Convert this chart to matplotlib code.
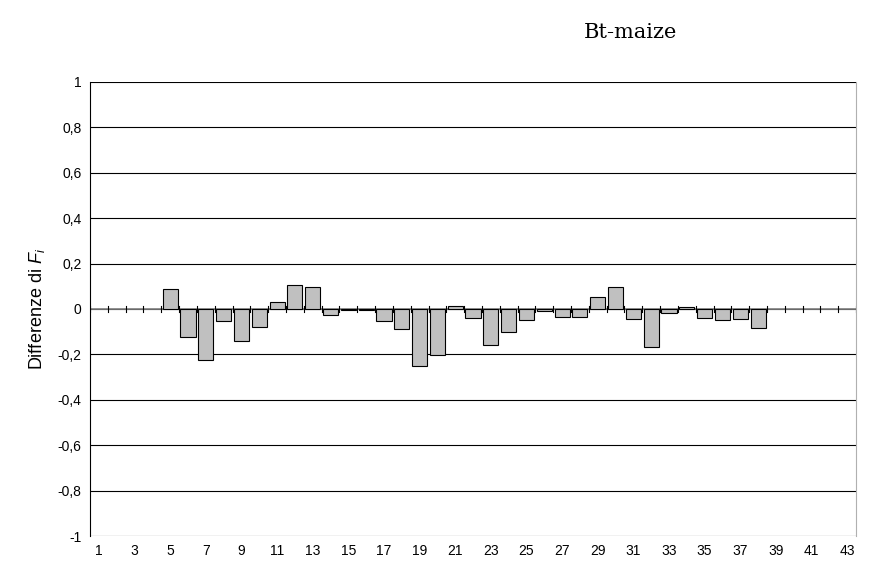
import matplotlib
matplotlib.use('Agg')
import matplotlib.pyplot as plt
import numpy as np

plt.rcParams['font.family'] = ['Liberation Sans', 'DejaVu Sans']
plt.rcParams['mathtext.fontset'] = 'custom'
plt.rcParams['mathtext.it'] = 'Liberation Sans:italic'
plt.rcParams['mathtext.rm'] = 'Liberation Sans'

categories = list(range(1, 44))
values = [0, 0, 0, 0, 0.086, -0.125, -0.223, -0.054, -0.141, -0.078,
          0.029, 0.107, 0.095, -0.026, -0.004, -0.004, -0.053, -0.089, -0.250, -0.204,
          0.012, -0.038, -0.157, -0.101, -0.050, -0.009, -0.035, -0.035, 0.051, 0.095,
          -0.042, -0.168, -0.019, 0.009, -0.040, -0.050, -0.042, -0.085, 0, 0,
          0, 0, 0]
y_ticks = [-1, -0.8, -0.6, -0.4, -0.2, 0, 0.2, 0.4, 0.6, 0.8, 1]
y_labels = ['-1', '-0,8', '-0,6', '-0,4', '-0,2', '0', '0,2', '0,4', '0,6', '0,8', '1']

fig = plt.figure(figsize=(8.69, 5.77), dpi=100)
ax = fig.add_axes([0.1036, 0.071, 0.8815, 0.787])

x = np.arange(len(categories))
nz = [v != 0 for v in values]
ax.bar(x[nz], np.array(values)[nz], width=0.85, color='#c0c0c0', edgecolor='black', linewidth=0.8, zorder=3)

for yt in y_ticks:
    ax.axhline(yt, color='black', linewidth=0.8, zorder=1)
ax.axhline(0, color='#808080', linewidth=1.2, zorder=2)
# category separator ticks on the zero line
for b in np.arange(-0.5, len(categories), 1.0):
    ax.plot([b, b], [-0.015, 0.015], color='black', linewidth=0.8, zorder=4)

ax.set_xlim(-0.5, len(categories) - 0.5)
ax.set_ylim(-1, 1)
ax.set_yticks(y_ticks)
ax.set_yticklabels(y_labels, fontsize=10)
ax.set_xticks(x[::2])
ax.set_xticklabels([str(c) for c in categories[::2]], fontsize=10)
ax.tick_params(axis='x', length=0, pad=6)
ax.tick_params(axis='y', length=0, pad=6)
for s in ['top', 'bottom']:
    ax.spines[s].set_visible(False)
ax.spines['right'].set_color('#b0b0b0')
ax.spines['left'].set_color('black')
ax.set_ylabel('Differenze di $F_i$', fontsize=13, labelpad=8)

fig.text(0.725, 0.943, 'Bt-maize', fontsize=15, family='DejaVu Serif', ha='center', va='center')

fig.savefig('out.png', dpi=100)
